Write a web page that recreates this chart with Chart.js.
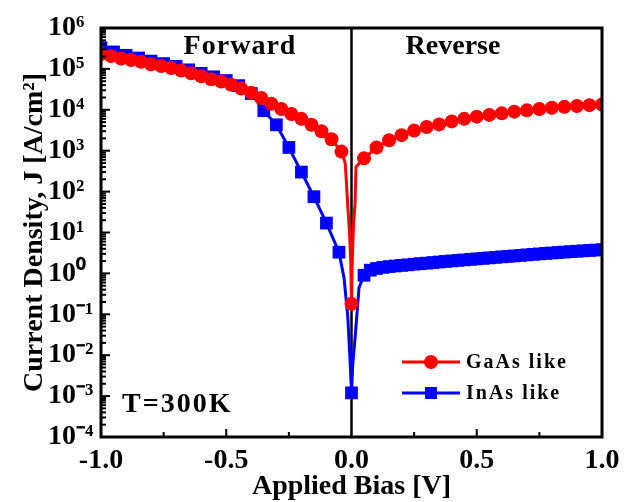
<!DOCTYPE html>
<html lang="en">
<head>
<meta charset="UTF-8">
<title>Current density vs applied bias</title>
<script src="https://cdn.jsdelivr.net/npm/chart.js"></script>
<style>
  html, body { margin: 0; padding: 0; background: #fff; }
</style>
</head>
<body>
<canvas id="jvChart" width="634" height="502"></canvas>
<script>
// GaAs like (red circles)
const gaasBias = [-1.00, -0.96, -0.92, -0.88, -0.84, -0.80, -0.76, -0.72, -0.68, -0.64,
                  -0.60, -0.56, -0.52, -0.48, -0.44, -0.40, -0.36, -0.32, -0.28, -0.24,
                  -0.20, -0.16, -0.12, -0.08, -0.04,
                  -0.025, -0.016, -0.008, -0.003, 0, 0.003, 0.008, 0.014, 0.018,
                  0.05, 0.10, 0.15, 0.20, 0.25, 0.30, 0.35, 0.40, 0.45, 0.50,
                  0.55, 0.60, 0.65, 0.70, 0.75, 0.80, 0.85, 0.90, 0.95, 1.00];
const gaasJ = [2.3e5, 2.05e5, 1.8e5, 1.65e5, 1.5e5, 1.3e5, 1.17e5, 1.05e5, 9.1e4, 7.8e4,
               6.6e4, 5.6e4, 4.9e4, 4.1e4, 3.3e4, 2.6e4, 1.95e4, 1.4e4, 1.05e4, 7.9e3,
               6.0e3, 4.3e3, 3.0e3, 1.9e3, 950,
               500, 60, 10, 2, 0.18, 2, 15, 50, 400,
               650, 1.2e3, 1.8e3, 2.4e3, 3.1e3, 3.8e3, 4.4e3, 5.2e3, 6.0e3, 6.8e3,
               7.5e3, 8.2e3, 9.0e3, 9.7e3, 1.05e4, 1.12e4, 1.18e4, 1.24e4, 1.3e4, 1.35e4];

// InAs like (blue squares)
const inasBias = [-1.00, -0.95, -0.90, -0.85, -0.80, -0.75, -0.70, -0.65, -0.60, -0.55,
                  -0.50, -0.45, -0.40, -0.35, -0.30, -0.25, -0.20, -0.15, -0.10, -0.05,
                  -0.03, -0.015, -0.005, 0, 0.005, 0.015, 0.03,
                  0.050, 0.075, 0.100, 0.125, 0.150, 0.175, 0.200, 0.225, 0.250, 0.275,
                  0.300, 0.325, 0.350, 0.375, 0.400, 0.425, 0.450, 0.475, 0.500, 0.525,
                  0.550, 0.575, 0.600, 0.625, 0.650, 0.675, 0.700, 0.725, 0.750, 0.775,
                  0.800, 0.825, 0.850, 0.875, 0.900, 0.925, 0.950, 0.975, 1.000];
const inasJ = [3.3e5, 2.6e5, 2.15e5, 1.85e5, 1.55e5, 1.35e5, 1.15e5, 9.5e4, 7.8e4, 6.4e4,
               5.2e4, 3.9e4, 2.5e4, 9.5e3, 4.3e3, 1.2e3, 300, 75, 17, 3.3,
               0.8, 0.09, 0.006, 0.0012, 0.006, 0.03, 0.45,
               0.9, 1.2, 1.32, 1.4, 1.47, 1.52, 1.57, 1.62, 1.68, 1.73,
               1.78, 1.84, 1.9, 1.96, 2.02, 2.08, 2.14, 2.2, 2.27, 2.33,
               2.4, 2.47, 2.54, 2.61, 2.68, 2.76, 2.84, 2.92, 3.0, 3.08,
               3.16, 3.24, 3.32, 3.4, 3.48, 3.56, 3.64, 3.72, 3.8];

const xTickValues = [-1, -0.5, 0, 0.5, 1];
const xTickLabels = ['-1.0', '-0.5', '0.0', '0.5', '1.0'];
const yExponents = [-4, -3, -2, -1, 0, 1, 2, 3, 4, 5, 6];

const serif = "'Liberation Serif', 'Times New Roman', serif";
const supMap = {'-': '\u207B', '0': '\u2070', '1': '\u00B9', '2': '\u00B2', '3': '\u00B3',
                '4': '\u2074', '5': '\u2075', '6': '\u2076', '7': '\u2077', '8': '\u2078', '9': '\u2079'};
function sup(n) {
    return String(n).split('').map(c => supMap[c]).join('');
}

// markers only on the measured points, not on the steep segments around 0 V
function markerRadius(r) {
    return ctx => {
        const v = ctx.raw ? ctx.raw.x : 0;
        if (v !== 0 && Math.abs(v) < 0.04) return 0;
        return r;
    };
}

// frame, inward ticks, zero line, annotations and legend
const decorPlugin = {
    id: 'decor',
    beforeDatasetsDraw(chart) {
        const {ctx, chartArea: a, scales: {x}} = chart;
        const x0 = x.getPixelForValue(0);
        ctx.save();
        ctx.strokeStyle = '#000';
        ctx.lineWidth = 2.5;
        ctx.beginPath();
        ctx.moveTo(x0, a.top);
        ctx.lineTo(x0, a.bottom);
        ctx.stroke();
        ctx.restore();
    },
    afterDatasetsDraw(chart) {
        const {ctx, chartArea: a, scales: {x, y}} = chart;
        ctx.save();
        ctx.strokeStyle = '#000';
        ctx.lineWidth = 2;
        // y ticks (inward)
        y.ticks.forEach(t => {
            const p = y.getPixelForValue(t.value);
            if (p <= a.top + 1 || p >= a.bottom - 1) return;
            const e = Math.log10(t.value);
            const len = Math.abs(e - Math.round(e)) < 1e-6 ? 9 : 5;
            ctx.beginPath();
            ctx.moveTo(a.left, p);
            ctx.lineTo(a.left + len, p);
            ctx.stroke();
        });
        // x ticks (inward)
        x.ticks.forEach(t => {
            if (Math.abs(t.value) < 1e-6 || Math.abs(Math.abs(t.value) - 1) < 1e-6) return;
            const p = x.getPixelForValue(t.value);
            const len = Math.abs(t.value * 2 - Math.round(t.value * 2)) < 1e-6 ? 8 : 5;
            ctx.beginPath();
            ctx.moveTo(p, a.bottom);
            ctx.lineTo(p, a.bottom - len);
            ctx.stroke();
        });
        // frame
        ctx.lineWidth = 3;
        ctx.strokeRect(a.left, a.top, a.right - a.left, a.bottom - a.top);

        // labels inside plot
        ctx.fillStyle = '#000';
        ctx.textBaseline = 'alphabetic';
        ctx.font = 'bold 28px ' + serif;
        ctx.textAlign = 'center';
        ctx.letterSpacing = '1px';
        ctx.fillText('Forward', 240, 54);
        ctx.letterSpacing = '0px';
        ctx.fillText('Reverse', 453, 54);
        ctx.textAlign = 'left';
        ctx.letterSpacing = '2px';
        ctx.fillText('T=300K', 122, 412);

        // legend
        const rows = [362, 393];
        chart.data.datasets.forEach((ds, i) => {
            const ly = rows[i];
            ctx.strokeStyle = ds.borderColor;
            ctx.lineWidth = 3;
            ctx.beginPath();
            ctx.moveTo(402, ly);
            ctx.lineTo(460, ly);
            ctx.stroke();
            ctx.fillStyle = ds.backgroundColor;
            if (ds.pointStyle === 'rect') {
                ctx.fillRect(425, ly - 6, 12, 12);
            } else {
                ctx.beginPath();
                ctx.arc(431, ly, 7, 0, Math.PI * 2);
                ctx.fill();
            }
            ctx.fillStyle = '#000';
            ctx.font = 'bold 20px ' + serif;
            ctx.letterSpacing = '2px';
            ctx.textBaseline = 'middle';
            ctx.fillText(ds.label, 466, ly + 1);
        });
        ctx.restore();
    }
};

const ctx = document.getElementById('jvChart').getContext('2d');
const chart = new Chart(ctx, {
    type: 'line',
    data: {
        datasets: [{
            label: 'GaAs like',
            data: gaasBias.map((v, i) => ({x: v, y: gaasJ[i]})),
            borderColor: '#ff0000',
            backgroundColor: '#ff0000',
            borderWidth: 3,
            pointStyle: 'circle',
            pointRadius: markerRadius(7),
            pointBorderWidth: 0,
            tension: 0
        }, {
            label: 'InAs like',
            data: inasBias.map((v, i) => ({x: v, y: inasJ[i]})),
            borderColor: '#0000ff',
            backgroundColor: '#0000ff',
            borderWidth: 3,
            pointStyle: 'rect',
            pointRadius: markerRadius(9),
            pointBorderWidth: 0,
            tension: 0
        }]
    },
    options: {
        responsive: false,
        animation: false,
        devicePixelRatio: 1,
        layout: { padding: { top: 28, right: 32, left: 48, bottom: 0 } },
        plugins: {
            legend: { display: false },
            tooltip: { enabled: false }
        },
        scales: {
            x: {
                type: 'linear',
                min: -1,
                max: 1,
                grid: { display: false, drawTicks: false },
                border: { display: false },
                ticks: {
                    stepSize: 0.25,
                    autoSkip: false,
                    maxRotation: 0,
                    padding: 7,
                    color: '#000',
                    font: { family: serif, size: 28, weight: 'bold' },
                    callback: v => {
                        const i = xTickValues.findIndex(t => Math.abs(t - v) < 1e-6);
                        return i >= 0 ? xTickLabels[i] : '';
                    }
                },
                title: {
                    display: true,
                    text: 'Applied Bias [V]',
                    color: '#000',
                    font: { family: serif, size: 28, weight: 'bold', lineHeight: 1 },
                    padding: { top: 0, bottom: 1 }
                },
                afterFit: s => { s.height = 65; }
            },
            y: {
                type: 'logarithmic',
                min: 1e-4,
                max: 1e6,
                grid: { display: false, drawTicks: false },
                border: { display: false },
                afterBuildTicks: s => {
                    const ticks = [];
                    yExponents.forEach(e => {
                        ticks.push({value: Math.pow(10, e), major: true});
                        if (e < yExponents[yExponents.length - 1]) {
                            for (let m = 2; m <= 9; m++) ticks.push({value: m * Math.pow(10, e)});
                        }
                    });
                    s.ticks = ticks;
                },
                ticks: {
                    autoSkip: false,
                    crossAlign: 'far',
                    color: '#000',
                    font: { family: serif, size: 28, weight: 'bold' },
                    callback: v => {
                        const e = Math.log10(v);
                        if (Math.abs(e - Math.round(e)) > 1e-6) return '';
                        return '10' + sup(Math.round(e));
                    }
                },
                title: {
                    display: true,
                    text: 'Current Density, J [A/cm\u00B2]',
                    color: '#000',
                    font: { family: serif, size: 28, weight: 'bold', lineHeight: 1 },
                    padding: { top: -27, bottom: 0 }
                },
                afterFit: s => { s.width = 53; }
            }
        }
    },
    plugins: [decorPlugin]
});
</script>
</body>
</html>
